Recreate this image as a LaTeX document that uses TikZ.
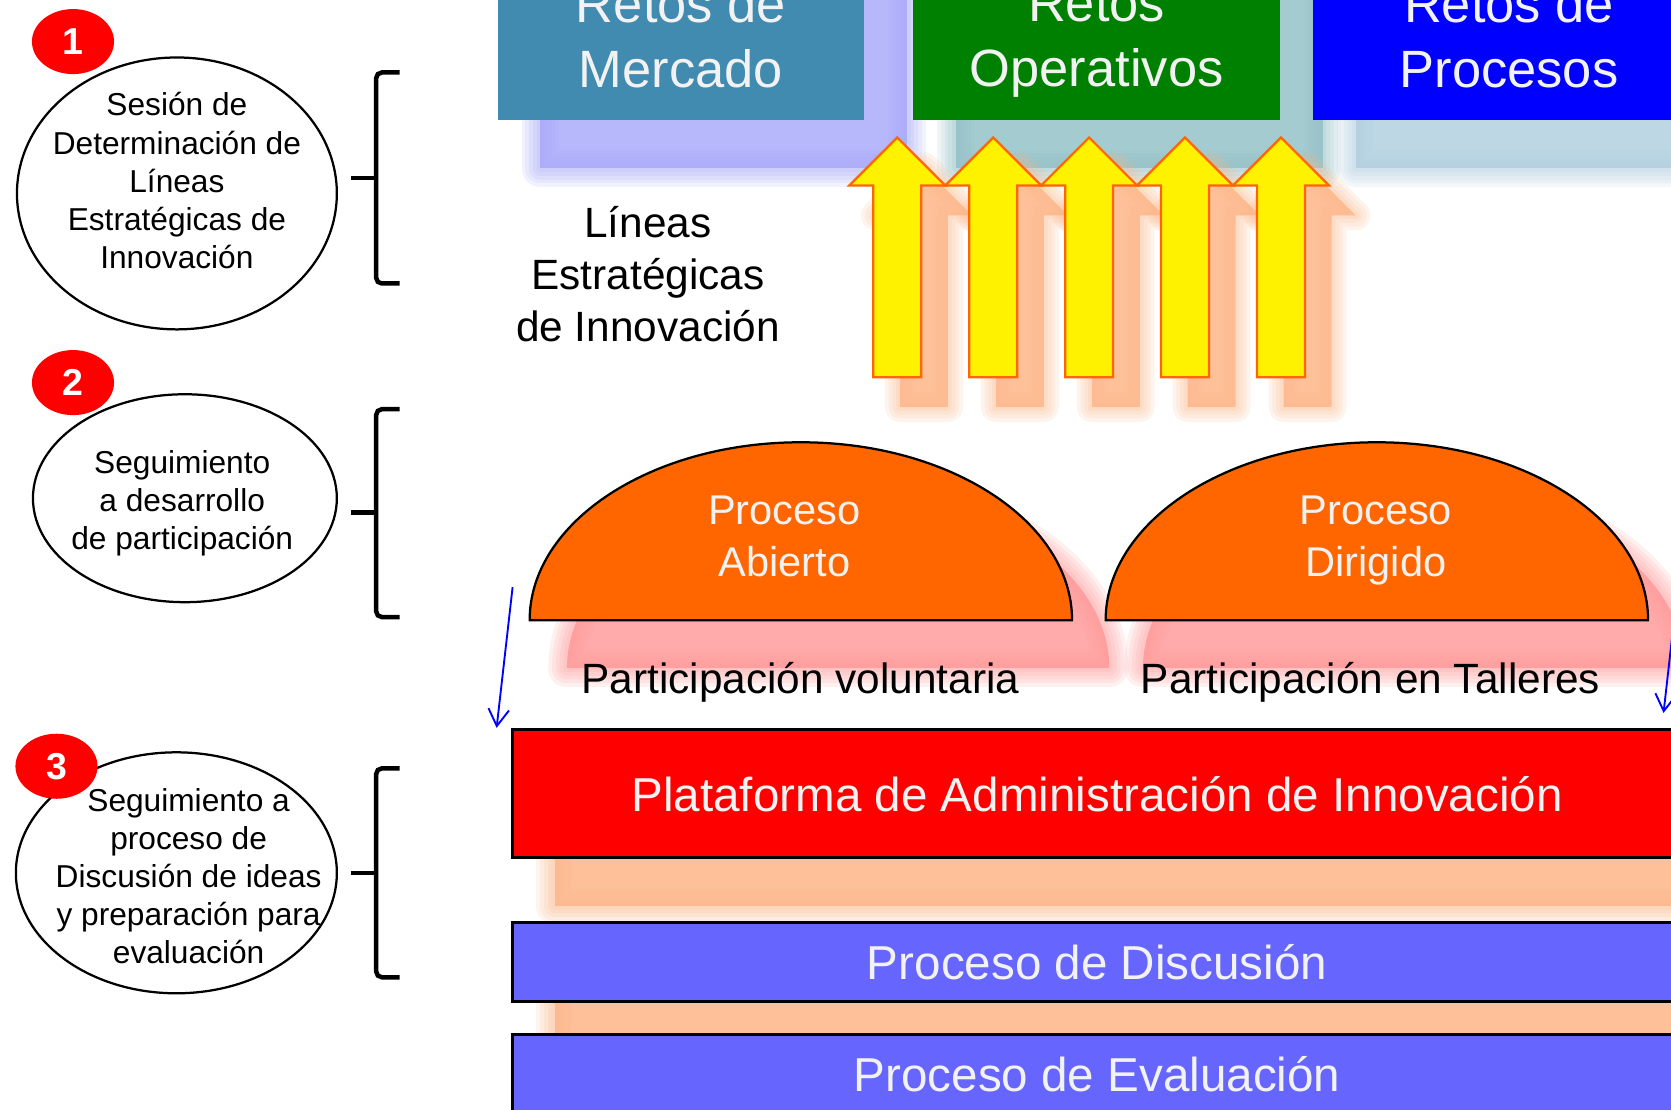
\documentclass[tikz,border=0pt]{standalone}
\usepackage{fontspec}
\setmainfont{Liberation Sans}
\usepackage{tikz}
\usetikzlibrary{positioning}
\usetikzlibrary{shapes.geometric,arrows.meta}

\definecolor{retoMercado}{RGB}{65,139,176}
\definecolor{retoOper}{RGB}{0,128,0}
\definecolor{retoProc}{RGB}{0,0,255}
\definecolor{flechaBorde}{RGB}{255,102,0}
\definecolor{naranja}{RGB}{255,102,0}
\definecolor{procAzul}{RGB}{102,102,255}
\definecolor{textoClaro}{RGB}{242,242,242}
\definecolor{sombraDurazno}{RGB}{253,182,136}
\definecolor{sombraRosa}{RGB}{255,150,150}
\definecolor{sombraLila}{RGB}{165,165,250}
\definecolor{sombraVerde}{RGB}{142,190,196}
\definecolor{sombraCeleste}{RGB}{174,205,222}

\begin{document}
\begin{tikzpicture}[x=0.01cm,y=-0.01cm]
	\tikzset{reto/.style={rectangle,inner sep=0pt,minimum width=3.44cm,minimum height=1.58cm,
			text=textoClaro,align=center,text depth=0pt,font=\fontsize{14}{17.4}\selectfont},
		caja/.style={rectangle,draw=black,line width=0.8pt,inner sep=0pt,minimum width=10.97cm,
			text=textoClaro,font=\fontsize{12.7}{15}\selectfont},
		elipse/.style={ellipse,draw,line width=0.6pt,inner sep=0pt},
		texto/.style={align=center,inner sep=0pt,text depth=0pt,font=\fontsize{8.45}{10.2}\selectfont},
		grande/.style={texto,font=\fontsize{11.3}{13.8}\selectfont},
		numero/.style={ellipse,fill=red,inner sep=0pt,minimum width=0.77cm,minimum height=0.61cm,
			text=white,font=\fontsize{10}{12}\selectfont\bfseries},
		llave/.style={line width=1.2pt,rounded corners=1.5pt},
		flecha/.style={draw=flechaBorde,fill=yellow,line width=0.6pt,line join=miter},
		domo/.style={draw=black,fill=naranja,line width=0.6pt},
		azul/.style={draw=blue,line width=0.5pt,-{Straight Barb[length=4.5pt,width=5.5pt]}}}

\useasboundingbox (0,0) rectangle (1568,1041);
\clip (0,0) rectangle (1568,1041);
\fill[white] (0,0) rectangle (1568,1041);

% sombras
\foreach \xa/\xb/\col in {507/851/sombraLila,897/1241/sombraVerde,1272/1640/sombraCeleste}{
	\foreach \w in {10,8,6,4,2}
		\draw[draw=\col,line width=\w pt,opacity=0.14,line join=round] (\xa,-60) rectangle (\xb,158);
	\fill[fill=\col,opacity=0.8] (\xa,-60) rectangle (\xb,158);
}
\foreach \ya/\yb in {730/850,911/985}{
	\foreach \w in {10,8,6,4,2}
		\draw[draw=sombraDurazno,line width=\w pt,opacity=0.14,line join=round] (521,\ya) rectangle (1640,\yb);
	\fill[fill=sombraDurazno,opacity=0.85] (521,\ya) rectangle (1640,\yb);
}
\foreach \x in {867,957,1047,1137,1227}{
	\foreach \w in {8,6,4,2}
		\draw[draw=sombraDurazno,line width=\w pt,opacity=0.14,line join=round]
			({\x-22.5},382) -- ({\x-22.5},202) -- ({\x-45},202) -- (\x,157) -- ({\x+45},202)
			-- ({\x+22.5},202) -- ({\x+22.5},382) -- cycle;
	\fill[fill=sombraDurazno,opacity=0.85]
		({\x-22.5},382) -- ({\x-22.5},202) -- ({\x-45},202) -- (\x,157) -- ({\x+45},202)
		-- ({\x+22.5},202) -- ({\x+22.5},382) -- cycle;
}
\foreach \cx in {786.5,1327}{
	\foreach \w in {10,8,6,4,2}
		\draw[draw=sombraRosa,line width=\w pt,opacity=0.14,line join=round]
			({\cx-254.5},627) .. controls ({\cx-254.5},535) and ({\cx-140.6},460) .. (\cx,460)
			.. controls ({\cx+140.6},460) and ({\cx+254.5},535) .. ({\cx+254.5},627) -- cycle;
	\fill[fill=sombraRosa,opacity=0.8]
		({\cx-254.5},627) .. controls ({\cx-254.5},535) and ({\cx-140.6},460) .. (\cx,460)
		.. controls ({\cx+140.6},460) and ({\cx+254.5},535) .. ({\cx+254.5},627) -- cycle;
}

% retos
\node[reto,fill=retoMercado] (mercado) at (639,34) {Retos de\\Mercado};
\node[reto,fill=retoOper] (operativos) at (1029,34) {Retos\\Operativos};
\node[reto,fill=retoProc,minimum width=3.68cm] (procesos) at (1416,34) {Retos de\\Procesos};

% flechas amarillas
\foreach \x in {842,932,1022,1112,1202}
	\draw[flecha] ({\x-22.5},354) -- ({\x-22.5},174) -- ({\x-45},174) -- (\x,129) -- ({\x+45},174)
		-- ({\x+22.5},174) -- ({\x+22.5},354) -- cycle;

\node[grande] (lineas) at (608,257) {Líneas\\Estratégicas\\de Innovación};

% procesos
\foreach \cx in {751.5,1292}
	\draw[domo] ({\cx-254.5},582) .. controls ({\cx-254.5},490) and ({\cx-140.6},415) .. (\cx,415)
		.. controls ({\cx+140.6},415) and ({\cx+254.5},490) .. ({\cx+254.5},582) -- cycle;
\node[grande,text=textoClaro,font=\fontsize{11.1}{13.9}\selectfont] (abierto) at (736,503) {Proceso\\Abierto};
\node[grande,text=textoClaro,font=\fontsize{11.1}{13.9}\selectfont] (dirigido) at (1291,503) {Proceso\\Dirigido};
\node[grande,anchor=base] (voluntaria) at (751,651) {Participación voluntaria};
\node[grande,anchor=base] (talleres) at (1286,651) {Participación en Talleres};

\node[caja,fill=red,minimum height=1.2cm] (plataforma) at (1029.5,745) {Plataforma de Administración de Innovación};
\node[caja,fill=procAzul,minimum height=0.74cm] (discusion) at (1029.5,903) {Proceso de Discusión};
\node[caja,fill=procAzul,minimum height=0.74cm] (evaluacion) at (1029.5,1008) {Proceso de Evaluación};

\coordinate (izqA) at (481,551);
\coordinate (izqB) at (466,683);
\coordinate (derA) at (1575,545);
\coordinate (derB) at (1561,669);
\draw[azul] (izqA) -- (izqB);
\draw[azul] (derA) -- (derB);

% etapas
\node[elipse,minimum width=3cm,minimum height=2.55cm] (e1) at (166,181.5) {};
\node[elipse,minimum width=2.85cm,minimum height=1.95cm] (e2) at (173.5,467.5) {};
\node[elipse,minimum width=3.01cm,minimum height=2.26cm] (e3) at (165.5,819) {};
\node[numero] (n1) at (68.5,39) {1};
\node[numero] (n2) at (68.5,359) {2};
\node[numero] (n3) at (53,719) {3};
\node[texto] (t1) at (166,169.5) {Sesión de\\Determinación de\\Líneas\\Estratégicas de\\Innovación};
\node[texto] (t2) at (171,469) {Seguimiento\\a desarrollo\\de participación};
\node[texto] (t3) at (177,822) {Seguimiento a\\proceso de\\Discusión de ideas\\y preparación para\\evaluación};

\foreach \yt/\ym/\yb in {68/167/266,384/481/579,721/819/917}{
	\draw[llave] (375,\yt) -- (353,\yt) -- (353,\yb) -- (375,\yb);
	\draw[llave] (353,\ym) -- (329,\ym);
}
\end{tikzpicture}
\end{document}
